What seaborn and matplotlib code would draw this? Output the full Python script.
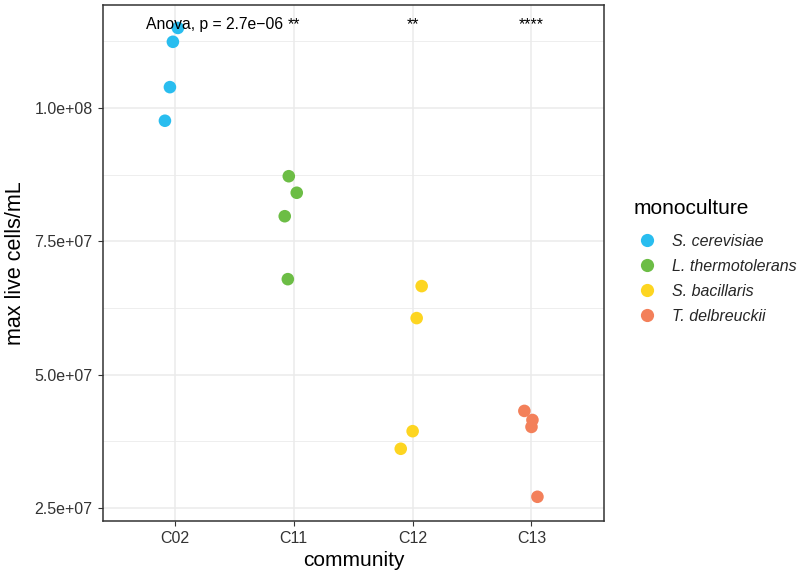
import numpy as np
import pandas as pd
import seaborn as sns
import matplotlib.pyplot as plt
from matplotlib.lines import Line2D
from matplotlib.ticker import FixedLocator, FuncFormatter

# Communities on the x axis and the monoculture each one is coloured by
communities = ["C02", "C11", "C12", "C13"]
monocultures = ["S. cerevisiae", "L. thermotolerans", "S. bacillaris", "T. delbreuckii"]
palette_colors = ["#29BDEF", "#6CBD45", "#FDD521", "#F3805A"]

# Maximum live cells per mL, four replicates per community
c02_cells = [1.150e8, 1.124e8, 1.039e8, 9.76e7]
c11_cells = [8.72e7, 8.41e7, 7.97e7, 6.79e7]
c12_cells = [6.66e7, 6.06e7, 3.94e7, 3.61e7]
c13_cells = [4.32e7, 4.15e7, 4.02e7, 2.71e7]

# Horizontal jitter of each replicate around its community
c02_jitter = [0.025, -0.017, -0.042, -0.084]
c11_jitter = [-0.042, 0.025, -0.076, -0.050]
c12_jitter = [0.076, 0.034, 0.000, -0.100]
c13_jitter = [-0.060, 0.008, 0.000, 0.050]

# Significance labels versus the reference group and the global test
signif_labels = ["", "**", "**", "****"]
anova_label = "Anova, p = 2.7e\u221206"

rows = []
for i, (comm, mono, vals, jit) in enumerate(zip(
        communities, monocultures,
        [c02_cells, c11_cells, c12_cells, c13_cells],
        [c02_jitter, c11_jitter, c12_jitter, c13_jitter])):
    for v, j in zip(vals, jit):
        rows.append({"community": comm, "pos": i + j, "cells": v, "monoculture": mono})
df = pd.DataFrame(rows)

sns.set_theme(style="white")
plt.rcParams["font.family"] = ["Liberation Sans", "DejaVu Sans"]

fig = plt.figure(figsize=(7.99, 5.73), dpi=100)
ax = fig.add_axes([103 / 799, 1 - 521 / 573, (604 - 103) / 799, (521 - 5) / 573])

sns.scatterplot(data=df, x="pos", y="cells", hue="monoculture",
                hue_order=monocultures, palette=palette_colors,
                s=82, linewidth=0, alpha=1, ax=ax, legend=False, zorder=3)

ax.set_xlim(-0.605, 3.61)
ax.set_ylim(2.256e7, 1.193e8)

# Grid: major at ticks, minor halfway between on y
ax.xaxis.set_major_locator(FixedLocator(range(len(communities))))
ax.set_xticklabels(communities)
ax.yaxis.set_major_locator(FixedLocator([2.5e7, 5.0e7, 7.5e7, 1.0e8]))
ax.yaxis.set_minor_locator(FixedLocator([3.75e7, 6.25e7, 8.75e7, 1.125e8]))
ax.yaxis.set_major_formatter(FuncFormatter(lambda v, p: f"{v:.1e}"))
ax.grid(True, which="major", color="#EBEBEB", linewidth=1.1, zorder=0)
ax.grid(True, which="minor", axis="y", color="#EBEBEB", linewidth=0.6, zorder=0)
ax.set_axisbelow(True)

for sp in ax.spines.values():
    sp.set_visible(True)
    sp.set_color("#333333")
    sp.set_linewidth(1.1)

ax.tick_params(axis="both", which="major", direction="out", length=3.5, width=0.8,
               color="#333333", labelsize=11.5, labelcolor="#333333", pad=4)
ax.tick_params(axis="y", which="minor", length=0)
ax.tick_params(bottom=True, left=True)

ax.set_xlabel("community", fontsize=15, color="black", labelpad=3)
ax.set_ylabel("max live cells/mL", fontsize=15.5, color="black", labelpad=6)

# Test annotations along the top of the panel
label_y = 1.148e8
ax.text(-0.244, label_y, anova_label, fontsize=11.3, ha="left", va="baseline", color="black")
for i, lab in enumerate(signif_labels):
    if lab:
        ax.text(i, label_y, lab, fontsize=11.3, ha="center", va="baseline", color="black")

# Legend: title drawn separately so its gap to the keys can be set freely
fig.text(634 / 799, 1 - 208 / 573, "monoculture", fontsize=15, ha="left", va="center",
         color="black")
handles = [Line2D([], [], marker="o", linestyle="", markersize=9.5,
                  markerfacecolor=c, markeredgewidth=0) for c in palette_colors]
leg = fig.legend(handles, monocultures, loc="upper left",
                 bbox_to_anchor=(637 / 799, 1 - 234 / 573), frameon=False,
                 fontsize=11.5, labelspacing=0.62, borderpad=0, borderaxespad=0,
                 handletextpad=1.0, handlelength=1.2)
for t in leg.get_texts():
    t.set_fontstyle("italic")

fig.savefig("out.png", dpi=100)
